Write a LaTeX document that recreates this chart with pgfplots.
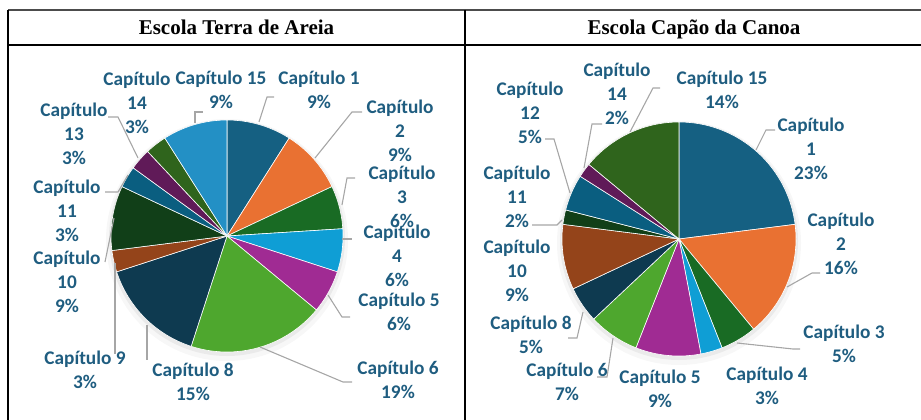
\documentclass[border=0pt]{standalone}
\usepackage{pgfplots}
\pgfplotsset{compat=1.18}
\usepackage{fontspec}
\setmainfont{Liberation Serif}
\newfontfamily\lab{Carlito}
\definecolor{c1}{HTML}{156082}
\definecolor{c2}{HTML}{E97132}
\definecolor{c3}{HTML}{196B24}
\definecolor{c4}{HTML}{0F9ED5}
\definecolor{c5}{HTML}{A02B93}
\definecolor{c6}{HTML}{4EA72E}
\definecolor{d1}{HTML}{0E3A50}
\definecolor{d2}{HTML}{94441A}
\definecolor{d3}{HTML}{113F18}
\definecolor{d4}{HTML}{0A5E80}
\definecolor{d5}{HTML}{601A58}
\definecolor{d6}{HTML}{2F641C}
\definecolor{l1}{HTML}{2390C5}
\definecolor{labcol}{HTML}{1F5D80}
\definecolor{leadcol}{HTML}{A6A6A6}
\tikzset{
  lbl/.style={font=\lab\bfseries\fontsize{19.3}{24}\selectfont, text=labcol, align=center, inner sep=0pt, anchor=center},
  ld/.style={draw=leadcol, line width=1.1pt}}
\begin{document}
\begin{tikzpicture}
\begin{axis}[x=1pt, y=1pt, xmin=0, xmax=921, ymin=0, ymax=420, y dir=reverse,
  hide axis, clip=false]
\coordinate (TL) at (0,0);
\coordinate (BR) at (921,420);
% table frame
\draw[line width=2pt, draw=black!70] (8,10) -- (921,10);
\draw[line width=1.3pt] (8,45) -- (921,45);
\draw[line width=1.3pt] (8,10) -- (8,420);
\draw[line width=1.3pt] (465,10) -- (465,420);
\node[font=\bfseries\fontsize{21}{24}\selectfont, anchor=base] at (236.5,35) {Escola Terra de Areia};
\node[font=\bfseries\fontsize{21}{24}\selectfont, anchor=base] at (694,35) {Escola Capão da Canoa};
% shadows
\fill[black, opacity=0.03] (227,240) circle[radius=121pt];
\fill[black, opacity=0.05] (227,238) circle[radius=118pt];
\fill[black, opacity=0.03] (679,243) circle[radius=122pt];
\fill[black, opacity=0.05] (679,241) circle[radius=119pt];
% Pie 1: Escola Terra de Areia (percent / colour)
\foreach \v/\c [remember=\b as \a (initially 90)] in {9/c1, 9/c2, 6/c3, 6/c4, 6/c5, 19/c6, 15/d1, 3/d2, 9/d3, 3/d4, 3/d5, 3/d6, 9/l1} {
  \pgfmathsetmacro\b{\a-\v*3.6}
  \edef\temp{\noexpand\addplot[fill=\c, draw=white, line width=0.6pt, domain=\b:\a, samples=60]
    ({227+116*cos(x)},{236-116*sin(x)}) -- (axis cs:227,236) -- cycle;}
  \temp
}
% Pie 2: Escola Capão da Canoa
\foreach \v/\c [remember=\b as \a (initially 90)] in {23/c1, 16/c2, 5/c3, 3/c4, 9/c5, 7/c6, 5/d1, 9/d2, 2/d3, 5/d4, 2/d5, 14/d6} {
  \pgfmathsetmacro\b{\a-\v*3.6}
  \edef\temp{\noexpand\addplot[fill=\c, draw=white, line width=0.6pt, domain=\b:\a, samples=60]
    ({679+117*cos(x)},{239-117*sin(x)}) -- (axis cs:679,239) -- cycle;}
  \temp
}
% leader lines pie 1
\draw[ld] (195,123) -- (195,112) -- (203,112);
\draw[ld] (259,122) -- (267,97) -- (274,97);
\draw[ld] (315,158) -- (352,112) -- (362,112);
\draw[ld] (342,205) -- (347,178) -- (355,178);
\draw[ld] (342,239) -- (352,239);
\draw[ld] (328,295) -- (342,317) -- (350,317);
\draw[ld] (260,347) -- (343,382) -- (352,382);
\draw[ld] (147,325) -- (147,360);
\draw[ld] (115,263) -- (115,354);
\draw[ld] (114,218) -- (105,262);
\draw[ld] (128,175) -- (118,192) -- (105,192);
\draw[ld] (138,158) -- (118,117) -- (108,117);
% leader lines pie 2
\draw[ld] (630,132) -- (653,88) -- (660,88);
\draw[ld] (584,168) -- (592,124) -- (602,124);
\draw[ld] (570,193) -- (554,139) -- (545,139);
\draw[ld] (562,220) -- (557,225) -- (532,225);
\draw[ld] (756,150) -- (766,130) -- (775,130);
\draw[ld] (787,287) -- (812,273) -- (820,273);
\draw[ld] (737,343) -- (793,349) -- (800,349);
\draw[ld] (613,338) -- (607,377) -- (597,377);
\draw[ld] (583,312) -- (577,338) -- (568,338);
% labels pie 1
\node[lbl] at (221,90) {Capítulo 15\\9\%};
\node[lbl] at (319,90) {Capítulo 1\\9\%};
\node[lbl] at (400,131) {Capítulo\\2\\9\%};
\node[lbl] at (402,197) {Capítulo\\3\\6\%};
\node[lbl] at (397,256) {Capítulo\\4\\6\%};
\node[lbl] at (399,311.5) {Capítulo 5\\6\%};
\node[lbl] at (398,379.5) {Capítulo 6\\19\%};
\node[lbl] at (193,381.5) {Capítulo 8\\15\%};
\node[lbl] at (85,370) {Capítulo 9\\3\%};
\node[lbl] at (67,282) {Capítulo\\10\\9\%};
\node[lbl] at (67,211) {Capítulo\\11\\3\%};
\node[lbl] at (74,134) {Capítulo\\13\\3\%};
\node[lbl] at (137,103) {Capítulo\\14\\3\%};
% labels pie 2
\node[lbl] at (722,90) {Capítulo 15\\14\%};
\node[lbl] at (617,94) {Capítulo\\14\\2\%};
\node[lbl] at (530,113) {Capítulo\\12\\5\%};
\node[lbl] at (517,197) {Capítulo\\11\\2\%};
\node[lbl] at (811,149) {Capítulo\\1\\23\%};
\node[lbl] at (841,244) {Capítulo\\2\\16\%};
\node[lbl] at (517,271) {Capítulo\\10\\9\%};
\node[lbl] at (531,334.5) {Capítulo 8\\5\%};
\node[lbl] at (567,382) {Capítulo 6\\7\%};
\node[lbl] at (660,389) {Capítulo 5\\9\%};
\node[lbl] at (767,385.5) {Capítulo 4\\3\%};
\node[lbl] at (844,344) {Capítulo 3\\5\%};
\end{axis}
\pgfresetboundingbox
\path[use as bounding box] (TL) rectangle (BR);
\end{tikzpicture}
\end{document}
